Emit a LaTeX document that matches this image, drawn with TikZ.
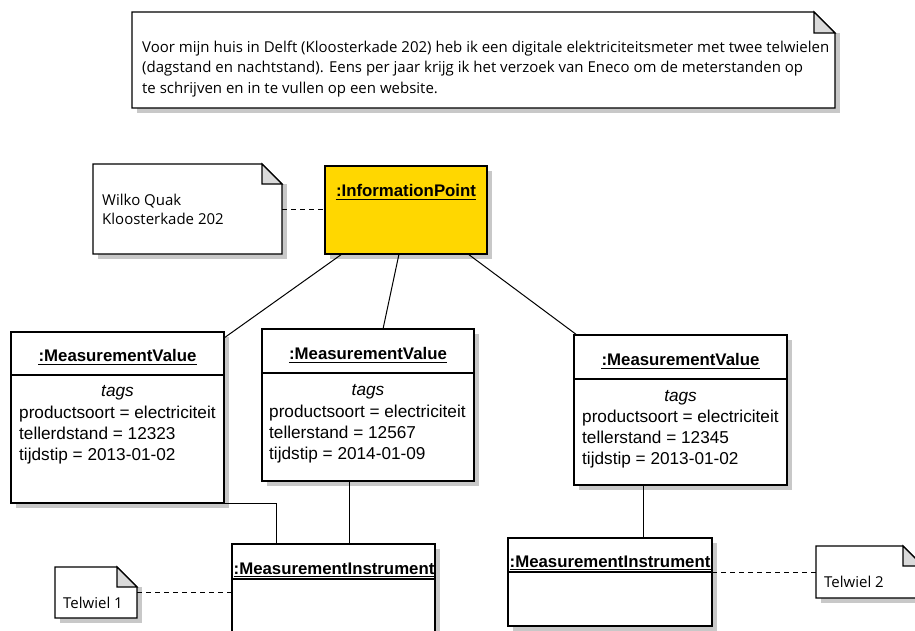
\documentclass[tikz,border=0pt]{standalone}
\usepackage{fontspec}
\setmainfont{Liberation Sans}
\newfontfamily\notefont{Open Sans}
\usetikzlibrary{shadows}

\definecolor{ipgold}{RGB}{255,215,0}
\definecolor{shadowgray}{RGB}{200,200,200}
\definecolor{foldgray}{RGB}{218,218,218}

% note with a folded corner: #1 = frame node, #2 = fold size (pt)
\newcommand\drawnote[2]{%
  \fill[shadowgray] ([shift={(5pt,-#2pt)}]#1.north east) rectangle ([shift={(5pt,-5pt)}]#1.south west);
  \filldraw[noteline, fill=white] (#1.north west) -- ([xshift=-#2pt]#1.north east)
     -- ([yshift=-#2pt]#1.north east) -- (#1.south east) -- (#1.south west) -- cycle;
  \filldraw[noteline, fill=foldgray] ([xshift=-#2pt]#1.north east)
     -- ([shift={(-#2pt,-#2pt)}]#1.north east) -- ([yshift=-#2pt]#1.north east) -- cycle;
}
% underline under a title node
\newcommand\titleline[1]{%
  \draw[line width=1.2pt] ([yshift=-3.8pt]#1.base west) -- ([yshift=-3.8pt]#1.base east);
}

\begin{document}
\begin{tikzpicture}[x=1pt,y=-1pt,
  noteframe/.style={inner sep=0, outer sep=0, anchor=north west},
  noteline/.style={line width=1.1pt, line join=miter},
  objbox/.style={draw, line width=1.2pt, fill=white, inner sep=0, outer sep=0, anchor=north west,
    drop shadow={shadow xshift=5pt, shadow yshift=-5pt, opacity=1, fill=shadowgray}},
  sepline/.style={line width=1.1pt},
  conn/.style={line width=1pt},
  noteconn/.style={line width=1pt, dash pattern=on 5pt off 4pt},
  attr/.style={font=\fontsize{17.2}{20}\selectfont, inner sep=0, anchor=base west},
  tagsfont/.style={font=\itshape\fontsize{17.2}{20}\selectfont, inner sep=0, anchor=base},
  objtitle/.style={font=\bfseries\fontsize{16.8}{20}\selectfont, inner sep=0},
  notetxt/.style={font=\notefont\fontsize{15}{18}\selectfont, inner sep=0, anchor=base west},
  smallnote/.style={font=\notefont\fontsize{15}{18}\selectfont, inner sep=0, anchor=base west},
]
\useasboundingbox (0,0) rectangle (915,630);
\clip (0,0) rectangle (915,630);
\fill[white] (0,0) rectangle (915,630);

% ---------- notes ----------
\node[noteframe, minimum width=703pt, minimum height=96pt] (topnote) at (132,12) {};
\drawnote{topnote}{21}
\node[notetxt] (nt1) at (142,52) {Voor mijn huis in Delft (Kloosterkade 202) heb ik een digitale elektriciteitsmeter met twee telwielen};
\node[notetxt] (nt2) at (142,72.5) {(dagstand en nachtstand). Eens per jaar krijg ik het verzoek van Eneco om de meterstanden op};
\node[notetxt] (nt3) at (142,93) {te schrijven en in te vullen op een website.};

\node[noteframe, minimum width=189pt, minimum height=90pt] (wq) at (93,164) {};
\drawnote{wq}{20}
\node[smallnote] (wq1) at (102,205) {Wilko Quak};
\node[smallnote] (wq2) at (102,224) {Kloosterkade 202};

\node[noteframe, minimum width=82pt, minimum height=51pt] (tw1) at (55,567) {};
\drawnote{tw1}{20}
\node[smallnote] (tw1t) at (63,608) {Telwiel 1};

\node[noteframe, minimum width=107pt, minimum height=52pt] (tw2) at (816,546) {};
\drawnote{tw2}{20}
\node[smallnote] (tw2t) at (824,587) {Telwiel 2};

% ---------- objects ----------
\node[objbox, fill=ipgold, minimum width=162pt, minimum height=88pt] (ip) at (325,166) {};
\node[objtitle, anchor=base] (ipt) at (406,196) {:InformationPoint};
\titleline{ipt}

\node[objbox, minimum width=213pt, minimum height=171pt] (mv1) at (11,332) {};
\draw[sepline] (11,375) -- (224,375);
\node[objtitle, anchor=base] (mv1t) at (117.5,361) {:MeasurementValue};
\titleline{mv1t}
\node[tagsfont] (mv1g) at (117.5,396) {tags};
\node[attr] (mv1a) at (19,418) {productsoort = electriciteit};
\node[attr] (mv1b) at (19,439) {tellerdstand = 12323};
\node[attr] (mv1c) at (19,460) {tijdstip = 2013-01-02};

\node[objbox, minimum width=212pt, minimum height=152pt] (mv2) at (262,329) {};
\draw[sepline] (262,373) -- (474,373);
\node[objtitle, anchor=base] (mv2t) at (368,359) {:MeasurementValue};
\titleline{mv2t}
\node[tagsfont] (mv2g) at (368,395) {tags};
\node[attr] (mv2a) at (269,417) {productsoort = electriciteit};
\node[attr] (mv2b) at (269,438) {tellerstand = 12567};
\node[attr] (mv2c) at (269,459) {tijdstip = 2014-01-09};

\node[objbox, minimum width=213pt, minimum height=150pt] (mv3) at (574,335) {};
\draw[sepline] (574,379) -- (787,379);
\node[objtitle, anchor=base] (mv3t) at (680.5,365) {:MeasurementValue};
\titleline{mv3t}
\node[tagsfont] (mv3g) at (680.5,401) {tags};
\node[attr] (mv3a) at (582,422) {productsoort = electriciteit};
\node[attr] (mv3b) at (582,443) {tellerstand = 12345};
\node[attr] (mv3c) at (582,464) {tijdstip = 2013-01-02};

\node[objbox, minimum width=203pt, minimum height=120pt] (mi1) at (232,544) {};
\draw[sepline] (232,579) -- (435,579);
\node[objtitle, anchor=base west] (mi1t) at (233.5,574) {:MeasurementInstrument};
\draw[line width=1.1pt] ([yshift=-2.5pt]mi1t.base west) -- ([yshift=-2.5pt]mi1t.base east);

\node[objbox, minimum width=204pt, minimum height=88pt] (mi2) at (508,538) {};
\draw[sepline] (508,572) -- (712,572);
\node[objtitle, anchor=base west] (mi2t) at (509.5,567) {:MeasurementInstrument};
\draw[line width=1.1pt] ([yshift=-2.5pt]mi2t.base west) -- ([yshift=-2.5pt]mi2t.base east);

% ---------- connectors ----------
\draw[noteconn] (wq.east) -- (wq.east -| ip.west);
\draw[conn] ([xshift=17pt]ip.south west) -- ([yshift=-6pt]mv1.north east);
\draw[conn] ([xshift=74pt]ip.south west) -- ([xshift=121pt]mv2.north west);
\draw[conn] ([xshift=-19pt]ip.south east) -- ([xshift=3pt]mv3.north west);
\coordinate (mi1in) at ([xshift=44pt]mi1.north west);
\draw[conn] (mv1.south east) -| (mi1in);
\coordinate (mv2out) at ([xshift=87pt]mv2.south west);
\draw[conn] (mv2out) -- (mv2out |- mi1.north);
\coordinate (mv3out) at ([xshift=69pt]mv3.south west);
\draw[conn] (mv3out) -- (mv3out |- mi2.north);
\draw[noteconn] (tw1.east) -- (tw1.east -| mi1.west);
\draw[noteconn] (mi2.east |- tw2.west) -- (tw2.west);
\end{tikzpicture}
\end{document}
